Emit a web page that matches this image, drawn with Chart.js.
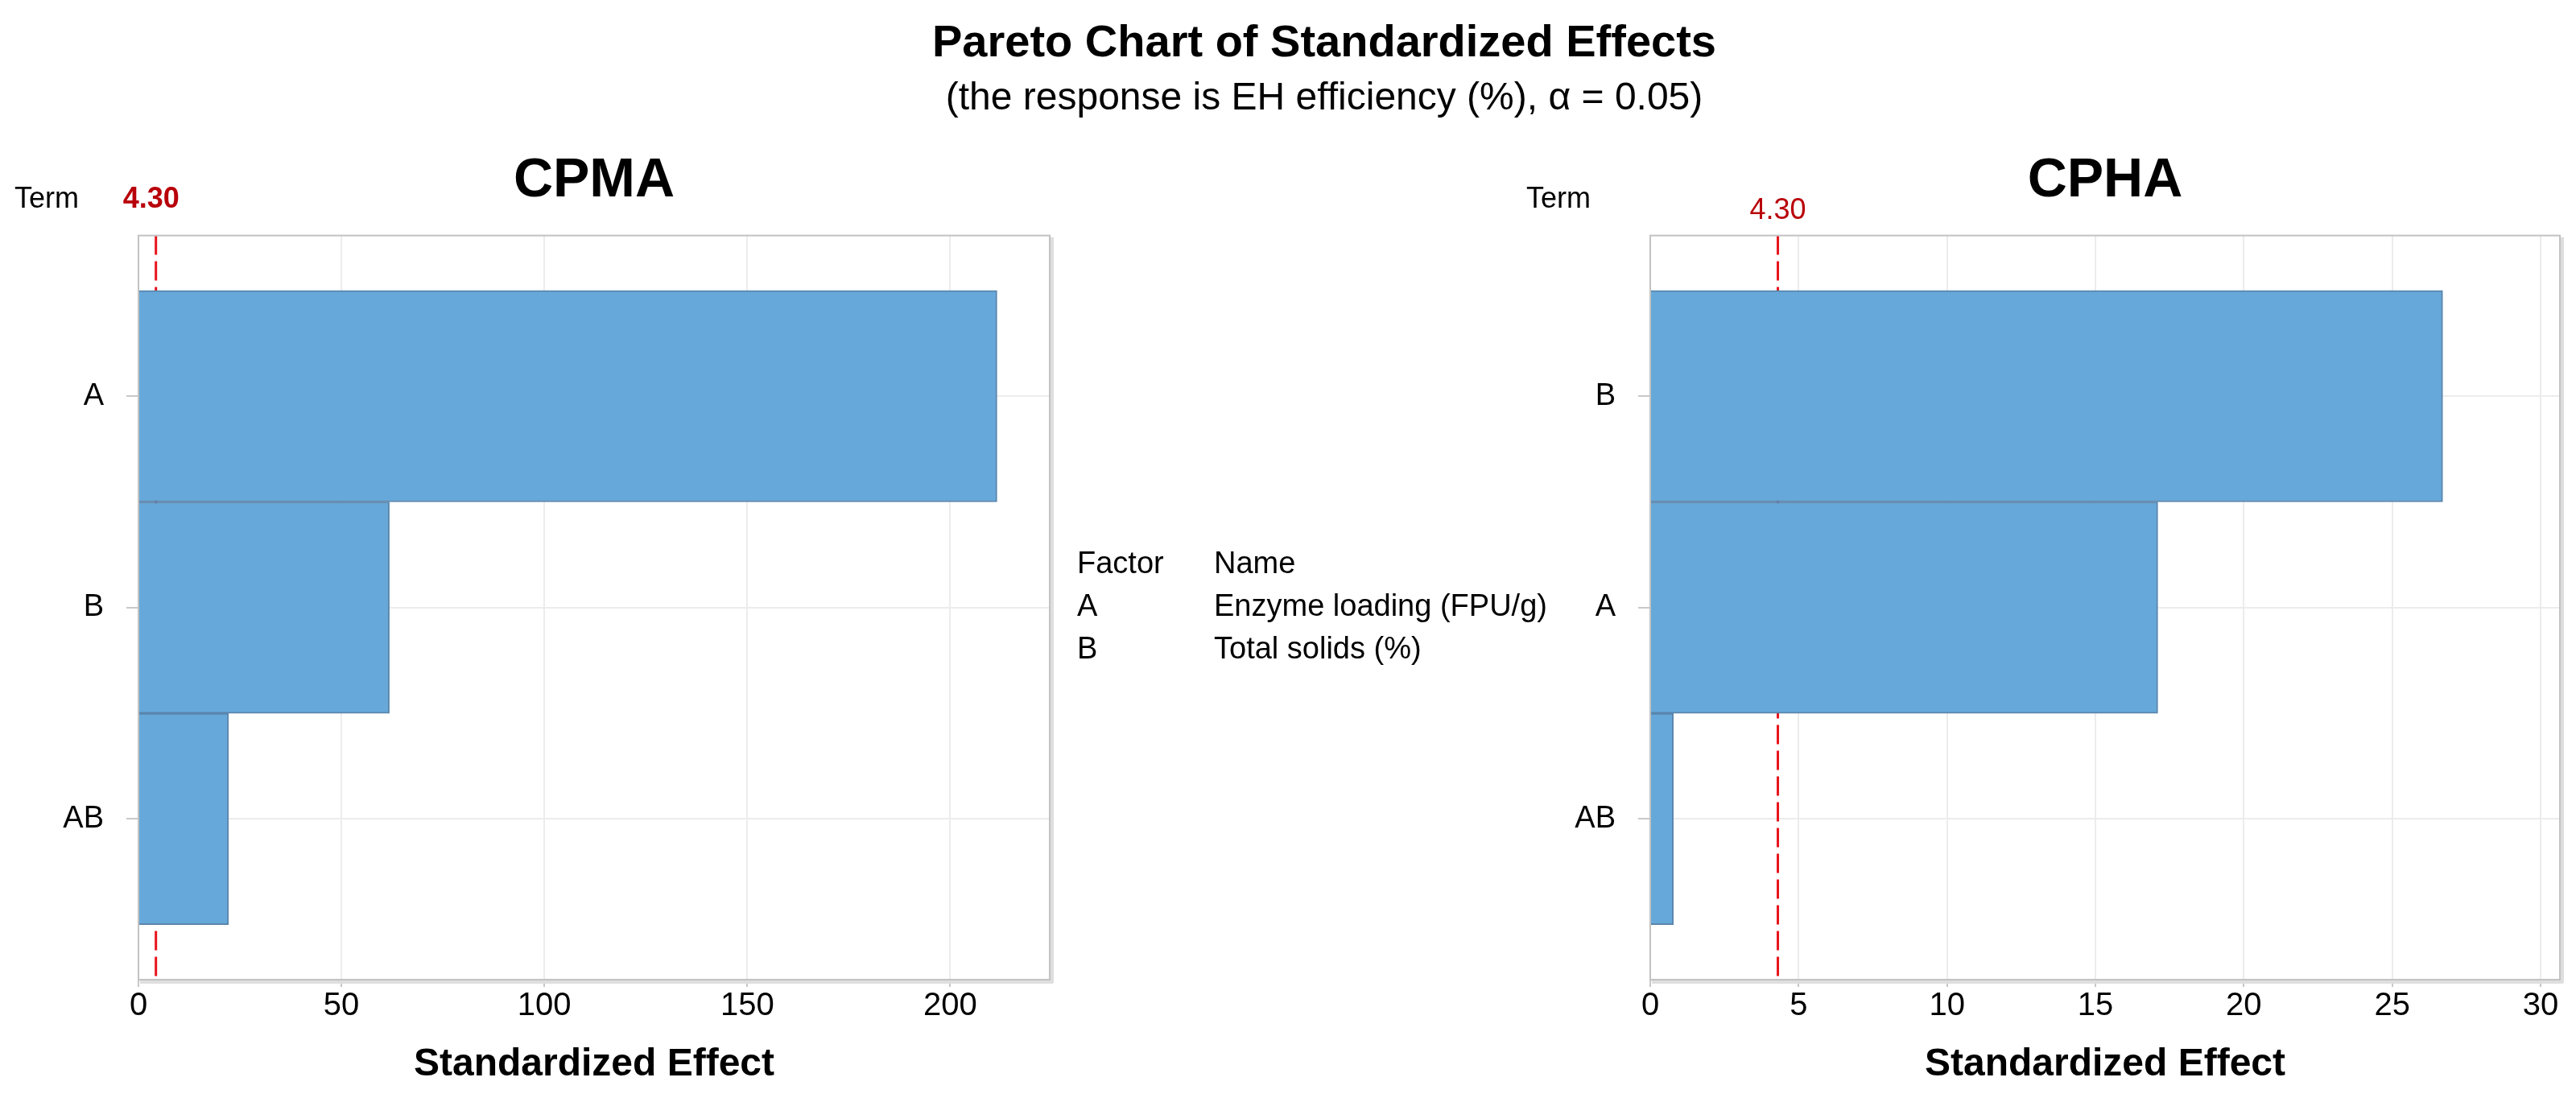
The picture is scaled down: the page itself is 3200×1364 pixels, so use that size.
<!DOCTYPE html>
<html lang="en">
<head>
  <meta charset="UTF-8">
  <title>Pareto Chart of Standardized Effects</title>
  <script src="https://cdn.jsdelivr.net/npm/chart.js"></script>
  <style>
    body {
      margin: 0;
      width: 3200px;
      height: 1364px;
      background: #fff;
      font-family: "Liberation Sans", Arial, sans-serif;
      color: #000;
      position: relative;
      overflow: hidden;
    }
    canvas { position: absolute; top: 0; }
    #left { left: 0; }
    #right { left: 1850px; }
    .title {
      position: absolute;
      left: 1145px;
      width: 1000px;
      text-align: center;
      line-height: 1;
      white-space: nowrap;
    }
    .legend {
      position: absolute;
      font-size: 38px;
      line-height: 1;
      white-space: nowrap;
    }
  </style>
</head>
<body>

  <canvas id="left" width="1340" height="1364"></canvas>
  <canvas id="right" width="1350" height="1364"></canvas>

  <div class="title" style="top:23px; font-size:56px; font-weight:bold;">Pareto Chart of Standardized Effects</div>
  <div class="title" style="top:96px; font-size:48px;">(the response is EH efficiency (%), α = 0.05)</div>

  <div class="legend" style="left:1338px; top:680px;">Factor</div>
  <div class="legend" style="left:1508px; top:680px;">Name</div>
  <div class="legend" style="left:1338px; top:733px;">A</div>
  <div class="legend" style="left:1508px; top:733px;">Enzyme loading (FPU/g)</div>
  <div class="legend" style="left:1338px; top:786px;">B</div>
  <div class="legend" style="left:1508px; top:786px;">Total solids (%)</div>

  <script>
    // values
    const critical = 4.30;

    const cpmaTerms = ['A', 'B', 'AB'];
    const cpmaEffects = [211.5, 61.8, 22.2];
    const cpmaTicks = [0, 50, 100, 150, 200];
    const cpmaMax = 224.5;

    const cphaTerms = ['B', 'A', 'AB'];
    const cphaEffects = [26.7, 17.1, 0.78];
    const cphaTicks = [0, 5, 10, 15, 20, 25, 30];
    const cphaMax = 30.65;

    const FONT = '"Liberation Sans", Arial, sans-serif';

    // frame, red reference line and the small "Term" / "4.30" labels
    const paretoExtras = {
      id: 'paretoExtras',
      beforeDatasetsDraw(chart, args, opts) {
        const { ctx, chartArea: a } = chart;
        const x = chart.scales.x.getPixelForValue(critical);
        ctx.save();
        ctx.strokeStyle = '#e8141c';
        ctx.lineWidth = 3;
        ctx.setLineDash([24, 8]);
        ctx.beginPath();
        ctx.moveTo(x, a.top);
        ctx.lineTo(x, a.bottom);
        ctx.stroke();
        ctx.restore();
      },
      afterDatasetsDraw(chart) {
        const { ctx, chartArea: a } = chart;
        ctx.save();
        ctx.fillStyle = '#dedede';
        ctx.fillRect(a.left + 2, a.bottom, a.right - a.left + 2, 5);
        ctx.fillRect(a.right, a.top + 2, 5, a.bottom - a.top + 2);
        ctx.strokeStyle = '#c2c2c2';
        ctx.lineWidth = 2;
        ctx.strokeRect(a.left, a.top, a.right - a.left, a.bottom - a.top);
        ctx.restore();
      },
      afterDraw(chart, args, opts) {
        const { ctx } = chart;
        const x = chart.scales.x.getPixelForValue(critical);
        ctx.save();
        ctx.textBaseline = 'alphabetic';
        ctx.fillStyle = '#000';
        ctx.font = '36px ' + FONT;
        ctx.textAlign = 'left';
        ctx.fillText('Term', opts.termX, 258);
        ctx.fillStyle = '#b8000a';
        ctx.font = (opts.critBold ? 'bold ' : '') + '36px ' + FONT;
        ctx.textAlign = 'center';
        ctx.fillText(critical.toFixed(2), x + opts.critDx, opts.critBaseline);
        ctx.restore();
      }
    };

    function makeChart(id, name, terms, effects, ticks, xMax, axisWidth, padRight, extras) {
      const ctx = document.getElementById(id).getContext('2d');
      return new Chart(ctx, {
        type: 'bar',
        data: {
          datasets: [{
            data: terms.map((t, i) => ({ x: effects[i], y: i })),
            backgroundColor: '#67a8da',
            borderColor: '#5a86ad',
            borderWidth: 2,
            barPercentage: 1,
            categoryPercentage: 1
          }]
        },
        options: {
          indexAxis: 'y',
          responsive: false,
          animation: false,
          layout: { padding: { left: 0, right: padRight, top: 0, bottom: 0 } },
          plugins: {
            legend: { display: false },
            tooltip: { enabled: false },
            title: {
              display: true,
              text: name,
              fullSize: false,
              color: '#000',
              font: { family: FONT, size: 68, weight: 'bold' },
              padding: { top: 184, bottom: 27 }
            },
            paretoExtras: extras
          },
          scales: {
            x: {
              type: 'linear',
              min: 0,
              max: xMax,
              afterBuildTicks: (s) => { s.ticks = ticks.map(v => ({ value: v })); },
              afterFit: (s) => { s.height = 147; },
              ticks: { color: '#000', padding: 0, font: { family: FONT, size: 40 } },
              grid: { color: '#ececec', lineWidth: 2, tickLength: 9, tickColor: '#c8c8c8' },
              border: { display: false },
              title: {
                display: true,
                text: 'Standardized Effect',
                color: '#000',
                font: { family: FONT, size: 48, weight: 'bold' },
                padding: { top: 0, bottom: 12 }
              }
            },
            y: {
              type: 'linear',
              reverse: true,
              offset: false,
              min: -0.76,
              max: 2.76,
              afterBuildTicks: (s) => { s.ticks = terms.map((t, i) => ({ value: i })); },
              afterFit: (s) => { s.width = axisWidth; },
              ticks: {
                color: '#000',
                padding: 28,
                font: { family: FONT, size: 38 },
                callback: (v) => terms[v]
              },
              grid: { offset: false, color: '#ececec', lineWidth: 2, tickLength: 15, tickColor: '#c8c8c8' },
              border: { display: false }
            }
          }
        },
        plugins: [paretoExtras]
      });
    }

    makeChart('left', 'CPMA', cpmaTerms, cpmaEffects, cpmaTicks, cpmaMax, 172, 36,
      { termX: 18, critBold: true, critBaseline: 258, critDx: -6 });
    makeChart('right', 'CPHA', cphaTerms, cphaEffects, cphaTicks, cphaMax, 200, 20,
      { termX: 46, critBold: false, critBaseline: 272, critDx: 0 });
  </script>

</body>
</html>
